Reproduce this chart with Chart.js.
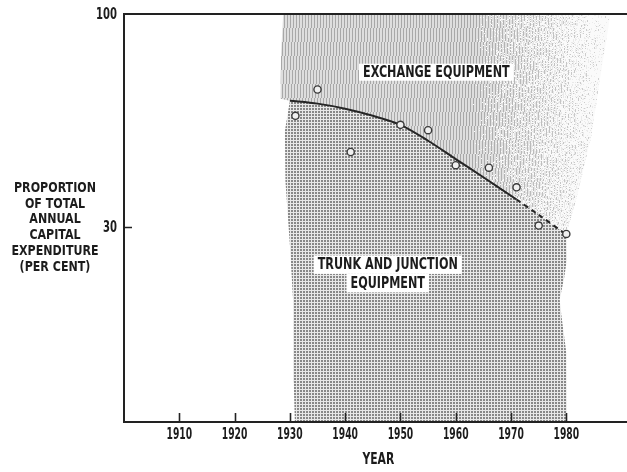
<!DOCTYPE html>
<html>
<head>
<meta charset="utf-8">
<script src="https://cdn.jsdelivr.net/npm/chart.js@4.4.0/dist/chart.umd.min.js"></script>
<style>
  html, body { margin: 0; padding: 0; background: #fff; }
</style>
</head>
<body>
<canvas id="chart" width="627" height="472"></canvas>
<script>
const FONT = "'DejaVu Sans Condensed', 'DejaVu Sans', sans-serif";

// Survey points (year, per cent of capital expenditure)
const surveyYears = [1931, 1935, 1941, 1950, 1955, 1960, 1966, 1971, 1975, 1980];
const surveyShare = [56.3, 65.3, 45.9, 53.5, 51.9, 42.6, 42.0, 37.6, 30.3, 28.9];

// Fitted boundary between the two shares, dashed after 1971
const trendYears = [1930, 1935, 1940, 1945, 1950, 1955, 1960, 1965, 1971, 1975, 1980];
const trendShare = [61.3, 60.3, 58.6, 56.3, 53.5, 48.9, 44.1, 39.8, 35.1, 32.2, 28.8];
const dashFrom = 1971;

// Ragged outer edges of the shaded regions
const exchangeEdgeYears = [1928.3, 1928.4, 1928.8, 1988, 1986.5, 1984.5, 1982];
const exchangeEdgeShare = [62, 80, 100, 100, 75, 50, 36];
const trunkEdgeYears = [1980.1, 1979.6, 1978.8, 1979.1, 1980, 1980.1, 1930.9, 1930.7, 1930.6, 1930, 1929.2, 1929.1];
const trunkEdgeShare = [25, 22.5, 20, 18.3, 14.8, 10, 10, 12.5, 19.7, 27.2, 38.9, 51.7];

// Axis ticks
const xTicks = [1910, 1920, 1930, 1940, 1950, 1960, 1970, 1980];
const yTicks = [30, 100];

const yTitle = ["PROPORTION", "OF TOTAL", "ANNUAL", "CAPITAL", "EXPENDITURE", "(PER CENT)"];

const pts = (xs, ys) => xs.map((x, i) => ({ x: x, y: ys[i] }));
const trend = pts(trendYears, trendShare);
const exchangeShape = pts(exchangeEdgeYears, exchangeEdgeShare).concat(trend.slice().reverse());
const trunkShape = trend.concat(pts(trunkEdgeYears, trunkEdgeShare));

// Dotted screen for trunk and junction
function dotPattern() {
  const c = document.createElement("canvas");
  c.width = 3; c.height = 3;
  const g = c.getContext("2d");
  g.fillStyle = "#e8e8e8";
  g.fillRect(0, 0, 3, 3);
  g.fillStyle = "#888888";
  g.fillRect(0, 0, 2, 2);
  return g.createPattern(c, "repeat");
}

function hash(a, b) {
  const s = Math.sin(a * 12.9898 + b * 78.233) * 43758.5453;
  return s - Math.floor(s);
}

// Line screen for exchange, fading to speckle on the right
let hatchCache = null;
function hatchFill(chart) {
  const xs = chart.scales.x;
  if (!xs || !chart.chartArea) return "#cccccc";
  const key = chart.width + ":" + chart.height + ":" + xs.left + ":" + xs.right;
  if (hatchCache && hatchCache.key === key) return hatchCache.pattern;
  const w = chart.width, h = chart.height;
  const c = document.createElement("canvas");
  c.width = w; c.height = h;
  const g = c.getContext("2d");
  const img = g.createImageData(w, h);
  const x0 = xs.getPixelForValue(1963), x1 = xs.getPixelForValue(1988);
  for (let py = 0; py < h; py++) {
    for (let px = 0; px < w; px++) {
      const f = px <= x0 ? 1 : Math.max(0, 1 - (px - x0) / (x1 - x0));
      const onLine = (px + Math.floor(py / 14)) % 3 === 0;
      let v = onLine ? 168 : 222;
      if (f < 1) {
        v = v + (250 - v) * (1 - f) * 0.55;
        if (hash(px, py) > Math.pow(f, 0.8)) v = 250;
      }
      const i = (py * w + px) * 4;
      img.data[i] = v; img.data[i + 1] = v; img.data[i + 2] = v; img.data[i + 3] = 255;
    }
  }
  g.putImageData(img, 0, 0);
  hatchCache = { key: key, pattern: g.createPattern(c, "no-repeat") };
  return hatchCache.pattern;
}

// Narrow lettering: DejaVu condensed squeezed a bit further
function narrowText(ctx, s, x, y, sx) {
  ctx.save();
  ctx.translate(x, y);
  ctx.scale(sx, 1);
  ctx.fillText(s, 0, 0);
  ctx.restore();
}

const frame = {
  id: "frame",
  afterDatasetsDraw(chart) {
    const ctx = chart.ctx, a = chart.chartArea;
    const xs = chart.scales.x, ys = chart.scales.y;
    ctx.save();
    ctx.strokeStyle = "#222";
    ctx.lineWidth = 2;
    ctx.beginPath();
    ctx.moveTo(chart.width, a.top); ctx.lineTo(a.left, a.top);
    ctx.lineTo(a.left, a.bottom); ctx.lineTo(chart.width, a.bottom);
    ctx.stroke();
    ctx.lineWidth = 1.6;
    ctx.beginPath();
    for (const t of xTicks) {
      const px = Math.round(xs.getPixelForValue(t)) + 0.5;
      ctx.moveTo(px, a.bottom); ctx.lineTo(px, a.bottom - 9);
    }
    for (const t of yTicks) {
      if (t === 100) continue;
      const py = Math.round(ys.getPixelForValue(t)) + 0.5;
      ctx.moveTo(a.left, py); ctx.lineTo(a.left + 8, py);
    }
    ctx.stroke();
    ctx.restore();
  },
  afterDraw(chart) {
    const ctx = chart.ctx, a = chart.chartArea;
    const xs = chart.scales.x, ys = chart.scales.y;
    ctx.save();
    ctx.textBaseline = "middle";
    ctx.fillStyle = "#1c1c1c";

    // Tick labels
    ctx.font = "bold 15.5px " + FONT;
    ctx.textAlign = "center";
    for (const t of xTicks) narrowText(ctx, String(t), xs.getPixelForValue(t), a.bottom + 13, 0.66);
    ctx.textAlign = "right";
    for (const t of yTicks) narrowText(ctx, String(t), a.left - 7, ys.getPixelForValue(t) + 1, 0.72);

    // Region labels on white boxes
    ctx.textAlign = "center";
    const boxed = (lines, year, share, lh) => {
      ctx.font = "bold 15px " + FONT;
      const cx = xs.getPixelForValue(year);
      const cy = ys.getPixelForValue(share);
      lines.forEach((s, i) => {
        const y = cy + i * lh;
        const w = ctx.measureText(s).width * 0.83 + 8;
        ctx.fillStyle = "#fff";
        ctx.fillRect(cx - w / 2, y - lh / 2, w, lh);
        ctx.fillStyle = "#1c1c1c";
        narrowText(ctx, s, cx, y + 0.5, 0.83);
      });
    };
    boxed(["EXCHANGE EQUIPMENT"], 1956.5, 72, 17);
    boxed(["TRUNK AND JUNCTION", "EQUIPMENT"], 1947.7, 24.3, 18.5);

    // Axis titles
    ctx.font = "bold 14.5px " + FONT;
    yTitle.forEach((s, i) => narrowText(ctx, s, 55, 188 + i * 15.8, 0.85));
    ctx.font = "bold 15px " + FONT;
    narrowText(ctx, "YEAR", xs.getPixelForValue(1946), a.bottom + 38, 0.8);
    ctx.restore();
  }
};

new Chart(document.getElementById("chart"), {
  type: "line",
  data: {
    datasets: [
      {
        label: "Survey",
        data: pts(surveyYears, surveyShare),
        showLine: false,
        pointRadius: 3.6,
        pointBorderWidth: 1.4,
        pointBorderColor: "#3a3a3a",
        pointBackgroundColor: "#f0f0f0",
        order: 0
      },
      {
        label: "Trend",
        data: trend,
        borderColor: "#262626",
        borderWidth: 2,
        pointRadius: 0,
        tension: 0.3,
        fill: false,
        segment: {
          borderDash: c => (c.p0.parsed.x >= dashFrom ? [5, 4] : undefined)
        },
        order: 1
      },
      {
        label: "Trunk and junction equipment",
        data: trunkShape,
        fill: "shape",
        backgroundColor: dotPattern(),
        borderColor: "rgba(0,0,0,0)",
        borderWidth: 0,
        pointRadius: 0,
        order: 2
      },
      {
        label: "Exchange equipment",
        data: exchangeShape,
        fill: "shape",
        backgroundColor: c => hatchFill(c.chart),
        borderColor: "rgba(0,0,0,0)",
        borderWidth: 0,
        pointRadius: 0,
        order: 3
      }
    ]
  },
  options: {
    responsive: false,
    animation: false,
    events: [],
    layout: { padding: { top: 14, right: 0, bottom: 0, left: 0 } },
    plugins: {
      legend: { display: false },
      tooltip: { enabled: false }
    },
    scales: {
      x: {
        type: "linear",
        min: 1900,
        max: 1990,
        grid: { display: false, drawTicks: false },
        border: { display: false },
        afterBuildTicks: s => { s.ticks = xTicks.map(v => ({ value: v })); },
        afterFit: s => { s.height = 50; },
        ticks: { display: false }
      },
      y: {
        type: "logarithmic",
        min: 10,
        max: 100,
        grid: { display: false, drawTicks: false },
        border: { display: false },
        afterBuildTicks: s => { s.ticks = yTicks.map(v => ({ value: v })); },
        afterFit: s => { s.width = 124; },
        ticks: { display: false }
      }
    }
  },
  plugins: [frame]
});
</script>
</body>
</html>
